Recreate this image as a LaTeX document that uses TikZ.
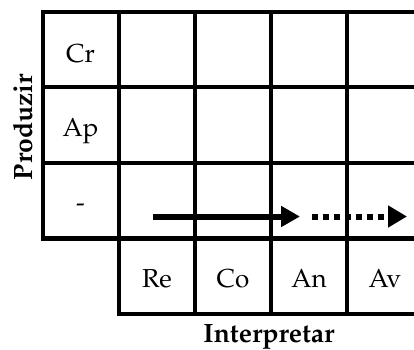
\documentclass[tikz,border=0pt]{standalone}
\usepackage[T1]{fontenc}
\usepackage{mathpazo}
\usetikzlibrary{arrows.meta}
\begin{document}
\begin{tikzpicture}[x=1pt,y=-1pt,
  gridline/.style={line width=4.3pt},
  celltext/.style={font=\fontsize{26}{29}\selectfont, anchor=base, inner sep=0pt},
  axislabel/.style={font=\fontsize{26.5}{30}\selectfont\bfseries, anchor=base, inner sep=0pt},
  solidarrow/.style={line width=6pt, -{Triangle[length=19pt,width=20pt]}},
  dasharrow/.style={line width=6pt, dash pattern=on 6.6pt off 4.4pt, -{Triangle[length=19pt,width=21pt]}}]
\useasboundingbox (0,0) rectangle (414,349);
\clip (0,0) rectangle (414,349);
% grid
\draw[gridline] (41,12) -- (430,12);
\draw[gridline] (41,87) -- (430,87);
\draw[gridline] (41,163) -- (430,163);
\draw[gridline] (41,238.5) -- (430,238.5);
\draw[gridline] (117,314) -- (430,314);
\draw[gridline] (43,10) -- (43,240.5);
\draw[gridline] (119,10) -- (119,316);
\draw[gridline] (195,10) -- (195,316);
\draw[gridline] (271,10) -- (271,316);
\draw[gridline] (347,10) -- (347,316);
% cell labels
\node[celltext] (cr) at (80.5,62) {Cr};
\node[celltext] (ap) at (80.5,136) {Ap};
\node[celltext] (nil) at (80.5,211) {-};
\node[celltext] (re) at (157,287) {Re};
\node[celltext] (co) at (233,287) {Co};
\node[celltext] (an) at (309,287) {An};
\node[celltext] (av) at (385,287) {Av};
% axis labels
\node[axislabel, rotate=90] (prod) at (32,127) {Produzir};
\node[axislabel] (interp) at (269,342) {Interpretar};
% arrows
\coordinate (s1) at (153,216.5);
\coordinate (e1) at (300,216.5);
\coordinate (s2) at (311.7,216.5);
\coordinate (e2) at (407,216.5);
\draw[solidarrow] (s1) -- (e1);
\draw[dasharrow] (s2) -- (e2);
\end{tikzpicture}
\end{document}
